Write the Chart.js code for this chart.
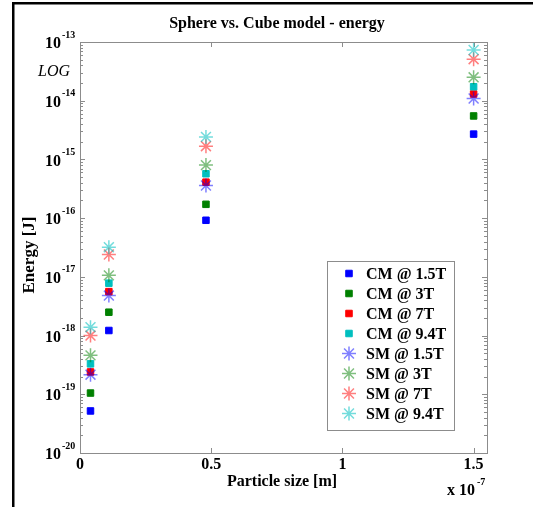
<!DOCTYPE html>
<html>
<head>
<meta charset="utf-8">
<script src="https://cdn.jsdelivr.net/npm/chart.js@4.4.1/dist/chart.umd.min.js"></script>
<style>
  html, body { margin: 0; padding: 0; background: #fff; }
  canvas { display: block; }
</style>
</head>
<body>
<canvas id="chart" width="533" height="507"></canvas>
<script>
// particle sizes [m]
const sizes = [4e-9, 1.1e-8, 4.8e-8, 1.5e-7];

// energy [J], cube model
const cm15 = [5.2e-20, 1.22e-18, 9.2e-17, 2.7e-15];
const cm3  = [1.05e-19, 2.5e-18, 1.72e-16, 5.5e-15];
const cm7  = [2.4e-19, 5.6e-18, 4.1e-16, 1.3e-14];
const cm94 = [3.3e-19, 7.8e-18, 5.7e-16, 1.73e-14];

// energy [J], sphere model
const sm15 = [2.16e-19, 4.8e-18, 3.6e-16, 1.09e-14];
const sm3  = [4.6e-19, 1.06e-17, 8.0e-16, 2.5e-14];
const sm7  = [1.0e-18, 2.4e-17, 1.68e-15, 5.1e-14];
const sm94 = [1.39e-18, 3.2e-17, 2.42e-15, 7.3e-14];

const seriesLabels = ['CM @ 1.5T', 'CM @ 3T', 'CM @ 7T', 'CM @ 9.4T',
                      'SM @ 1.5T', 'SM @ 3T', 'SM @ 7T', 'SM @ 9.4T'];
const seriesValues = [cm15, cm3, cm7, cm94, sm15, sm3, sm7, sm94];

// axis ticks
const xTicks = [0, 0.5e-7, 1e-7, 1.5e-7];
const xTickLabels = ['0', '0.5', '1', '1.5'];
const yExponents = [-20, -19, -18, -17, -16, -15, -14, -13];

const FONT = "'Liberation Serif', 'Times New Roman', serif";
const AXIS_GRAY = '#8c8c8c';

// matlab-ish colours: b, g, r, c
const solid = ['#0000ff', '#008000', '#ff0000', '#00bfbf'];
const faint = ['rgba(0,0,255,0.5)', 'rgba(0,128,0,0.5)', 'rgba(255,0,0,0.5)', 'rgba(0,191,191,0.55)'];

const datasets = seriesValues.map((vals, i) => {
    const cube = i < 4;
    const c = i % 4;
    return {
        label: seriesLabels[i],
        data: sizes.map((s, k) => ({ x: s, y: vals[k] })),
        showLine: false,
        pointStyle: cube ? 'rect' : 'star',
        pointRadius: cube ? 4.6 : 7,
        pointBorderWidth: cube ? 1 : 1.5,
        backgroundColor: solid[c],
        borderColor: cube ? solid[c] : faint[c],
        order: seriesValues.length - i // later series on top
    };
});

// plot box with inward ticks on all four sides
const axesBox = {
    id: 'axesBox',
    beforeDatasetsDraw(chart) {
        const { ctx, chartArea: a, scales: { x, y } } = chart;
        ctx.save();
        ctx.strokeStyle = AXIS_GRAY;
        ctx.lineWidth = 1;
        ctx.strokeRect(a.left + 0.5, a.top + 0.5, a.right - a.left, a.bottom - a.top);
        ctx.beginPath();
        xTicks.forEach(v => {
            const px = Math.round(x.getPixelForValue(v)) + 0.5;
            ctx.moveTo(px, a.bottom); ctx.lineTo(px, a.bottom - 5);
            ctx.moveTo(px, a.top); ctx.lineTo(px, a.top + 5);
        });
        for (let e = -20; e < -13; e++) {
            for (let m = 1; m < 10; m++) {
                const py = Math.round(y.getPixelForValue(m * Math.pow(10, e))) + 0.5;
                const len = m === 1 ? 5 : 3;
                ctx.moveTo(a.left, py); ctx.lineTo(a.left + len, py);
                ctx.moveTo(a.right, py); ctx.lineTo(a.right - len, py);
            }
        }
        ctx.stroke();
        ctx.restore();
    }
};

// titles, tick labels, legend and the figure frame
const annotations = {
    id: 'annotations',
    beforeDraw(chart) {
        const { ctx, width, height } = chart;
        ctx.save();
        ctx.fillStyle = '#fff';
        ctx.fillRect(0, 0, width, height);
        ctx.fillStyle = '#000';
        ctx.fillRect(12, 2, 2.5, height);
        ctx.fillRect(12, 2, width, 2.5);
        ctx.restore();
    },
    afterDraw(chart) {
        const { ctx, chartArea: a, scales: { x, y } } = chart;
        ctx.save();
        ctx.fillStyle = '#000';
        ctx.textBaseline = 'middle';

        // title
        ctx.font = 'bold 16px ' + FONT;
        ctx.textAlign = 'center';
        ctx.fillText('Sphere vs. Cube model - energy', 277, 24);

        // x tick labels
        xTicks.forEach((v, i) => {
            ctx.fillText(xTickLabels[i], x.getPixelForValue(v), 465);
        });
        ctx.fillText('Particle size [m]', 282, 482);

        // x multiplier
        ctx.textAlign = 'left';
        ctx.fillText('x 10', 447, 491);
        ctx.font = 'bold 10px ' + FONT;
        ctx.fillText('-7', 477, 482);

        // y tick labels 10^n
        yExponents.forEach(e => {
            const py = y.getPixelForValue(Math.pow(10, e));
            ctx.font = 'bold 16px ' + FONT;
            ctx.textAlign = 'right';
            ctx.fillText('10', 61, py + 2);
            ctx.font = 'bold 10px ' + FONT;
            ctx.textAlign = 'left';
            ctx.fillText(String(e), 62, py - 7);
        });

        ctx.font = 'italic 16px ' + FONT;
        ctx.textAlign = 'center';
        ctx.fillText('LOG', 54, 72);

        // y axis title
        ctx.save();
        ctx.translate(30, 255);
        ctx.rotate(-Math.PI / 2);
        ctx.font = 'bold 17px ' + FONT;
        ctx.fillText('Energy [J]', 0, 0);
        ctx.restore();

        // legend
        const lx = 327.5, ly = 261.5, lw = 127, lh = 169;
        ctx.fillStyle = '#fff';
        ctx.fillRect(lx, ly, lw, lh);
        ctx.strokeStyle = AXIS_GRAY;
        ctx.lineWidth = 1;
        ctx.strokeRect(lx, ly, lw, lh);
        chart.data.datasets.forEach((ds, i) => {
            const cy = 273.5 + i * 20;
            ctx.fillStyle = ds.backgroundColor;
            ctx.strokeStyle = ds.borderColor;
            ctx.lineWidth = ds.pointBorderWidth;
            Chart.helpers.drawPoint(ctx, {
                pointStyle: ds.pointStyle,
                radius: ds.pointRadius,
                borderWidth: ds.pointBorderWidth,
                rotation: 0
            }, 349, cy);
            ctx.fillStyle = '#000';
            ctx.font = 'bold 16px ' + FONT;
            ctx.textAlign = 'left';
            ctx.fillText(ds.label, 366, cy + 1);
        });
        ctx.restore();
    }
};

new Chart(document.getElementById('chart'), {
    type: 'scatter',
    data: { datasets },
    options: {
        responsive: false,
        animation: false,
        layout: { padding: { left: 80, top: 42, right: 46, bottom: 54 } },
        plugins: { legend: { display: false }, title: { display: false }, tooltip: { enabled: false } },
        scales: {
            x: { type: 'linear', display: false, min: 0, max: 1.551e-7 },
            y: { type: 'logarithmic', display: false, min: 1e-20, max: 1e-13 }
        }
    },
    plugins: [annotations, axesBox]
});
</script>
</body>
</html>
